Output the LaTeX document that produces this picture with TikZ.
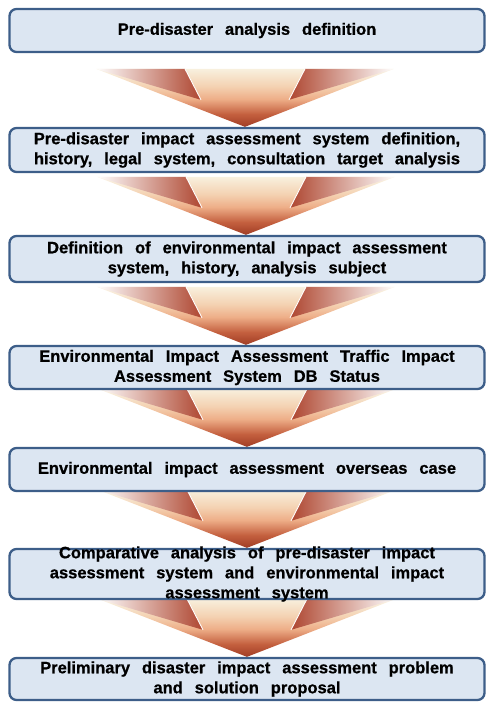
\documentclass[tikz,border=0pt]{standalone}
\usepackage{fontspec}
\setmainfont{Liberation Sans}[WordSpace=2.6, BoldFeatures={FakeBold=0.7}]
\usetikzlibrary{fadings}

\definecolor{boxfill}{HTML}{DCE6F2}
\definecolor{boxline}{HTML}{3D5E89}
\definecolor{wingred}{HTML}{AE4630}

% mask that keeps the middle of a path and fades out its left and right ends
\pgfdeclarehorizontalshading{sidefadeshading}{100bp}{%
  color(0bp)=(black); color(6bp)=(black); color(32bp)=(white);
  color(68bp)=(white); color(94bp)=(black); color(100bp)=(black)}
\pgfdeclarefading{sidefade}{\pgfuseshading{sidefadeshading}}

% body of the arrow: cream shaft, peach shoulders, rust tip
% (a shaded path spans the 25bp--75bp band of the shading)
\definecolor{arrA}{HTML}{A03C24}
\definecolor{arrB}{HTML}{C4603F}
\definecolor{arrC}{HTML}{EEAE88}
\definecolor{arrD}{HTML}{F4D2B2}
\definecolor{arrE}{HTML}{F8F0DE}
\pgfdeclareverticalshading{arrowbody}{100bp}{%
  color(0bp)=(arrA); color(25bp)=(arrA); color(36bp)=(arrB);
  color(49bp)=(arrC); color(60bp)=(arrD); color(75bp)=(arrE);
  color(100bp)=(arrE)}

\pgfdeclarelayer{bg}
\pgfsetlayers{bg,main}

\tikzset{
  stepbox/.style={draw=boxline, line width=2.3pt, fill=boxfill,
    rounded corners=7pt, minimum width=475pt, inner sep=0pt},
  steptext/.style={font=\fontsize{16.5}{20}\selectfont\bfseries,
    align=center, inner sep=0pt},
  % shaded down arrow, tip at the pic origin
  chevron/.pic={
    \shade[shading=arrowbody, path fading=sidefade]
      (-149,-58) -- (149,-58) -- (0,0) -- cycle;
    \shade[left color=white, right color=wingred]
      (-149,-58) -- (-60,-58) -- (-44,-27) -- cycle;
    \shade[left color=wingred, right color=white]
      (149,-58) -- (60,-58) -- (44,-27) -- cycle;
    \draw[white, line width=0.9pt] (-60,-58) -- (-44,-27);
    \draw[white, line width=0.9pt] (60,-58) -- (44,-27);
  }
}

\begin{document}
\begin{tikzpicture}[x=1pt, y=-1pt]
  \useasboundingbox (0,0) rectangle (488,703);

  \node[stepbox, minimum height=43pt] (b1) at (247,30.5) {};
  \node[stepbox, minimum height=44pt] (b2) at (247,150) {};
  \node[stepbox, minimum height=46pt] (b3) at (247,259) {};
  \node[stepbox, minimum height=43pt] (b4) at (247,367.5) {};
  \node[stepbox, minimum height=43pt] (b5) at (247,469.5) {};
  \node[stepbox, minimum height=50pt] (b6) at (247,574) {};
  \node[stepbox, minimum height=42pt] (b7) at (247,679) {};

  \node[steptext] (t1) at (b1.center) {Pre-disaster analysis definition};
  \node[steptext] (t2) at (b2.center) {Pre-disaster impact assessment system definition,\\history, legal system, consultation target analysis};
  \node[steptext] (t3) at (b3.center) {Definition of environmental impact assessment\\system, history, analysis subject};
  \node[steptext] (t4) at (b4.center) {Environmental Impact Assessment Traffic Impact\\Assessment System DB Status};
  \node[steptext] (t5) at (b5.center) {Environmental impact assessment overseas case};
  \node[steptext] (t6) at (b6.center) {Comparative analysis of pre-disaster impact\\assessment system and environmental impact\\assessment system};
  \node[steptext] (t7) at (b7.center) {Preliminary disaster impact assessment problem\\and solution proposal};

  \begin{pgfonlayer}{bg}
    \pic at ([xshift=-2pt]b2.north) {chevron};
    \pic at ([xshift=-1pt]b3.north) {chevron};
    \pic at ([xshift=-1pt]b4.north) {chevron};
    \pic at (b5.north) {chevron};
    \pic at (b6.north) {chevron};
    \pic at (b7.north) {chevron};
  \end{pgfonlayer}
\end{tikzpicture}
\end{document}
